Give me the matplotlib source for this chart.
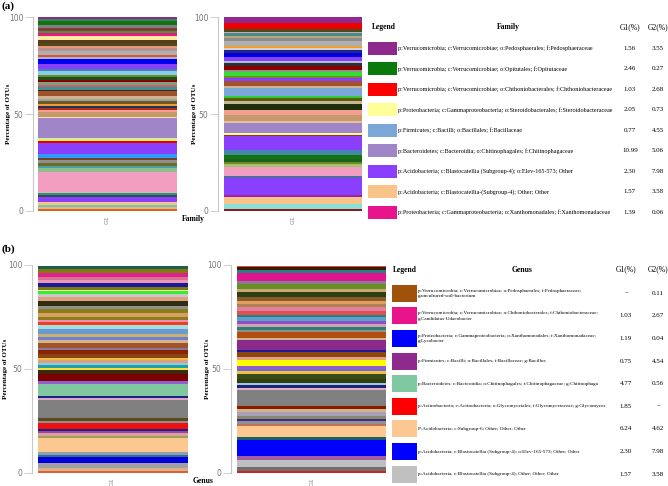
import numpy as np
import matplotlib
matplotlib.use("Agg")
import matplotlib.pyplot as plt

# ---- stacked bar data (bottom -> top), percent of OTUs ----
fam_g1_vals = [0.9, 1.2, 0.9, 1.4, 2.9, 0.9, 1.2, 0.5, 10.3, 1.7, 1.4, 1.2, 1.7, 0.9,
               2.2, 5.9, 0.7, 1.0, 0.7, 10.2, 0.9, 2.2, 1.2, 0.9, 1.2, 0.9, 1.4, 1.4,
               1.2, 2.6, 0.9, 1.2, 1.4, 1.2, 1.4, 1.4, 1.2, 1.7, 1.4, 2.1, 2.6, 1.4,
               0.9, 2.1, 1.4, 1.2, 1.7, 1.4, 2.1, 1.4, 1.2, 1.7, 1.2, 2.2, 1.2, 1.0]
fam_g1_cols = ["#d2691e", "#f0b090", "#66cdaa", "#f9c48a", "#8a3ffc", "#2f4f4f", "#3c8c78",
               "#c0c0c0", "#f29ec0", "#8fbc8f", "#48a0a0", "#6b6b2a", "#909090", "#6b4423",
               "#3399ff", "#8a3ffc", "#e00000", "#ffee44", "#aeeeee", "#9e86c8", "#ffdab0",
               "#c49a6c", "#f4a090", "#b03020", "#1f2f5f", "#f0a030", "#6b5a2a", "#a0a0a0",
               "#d2b48c", "#a0522d", "#3a2a1a", "#3f8f8f", "#c86070", "#7f9f7f", "#8b0000",
               "#1e4d1e", "#6b8e23", "#87ceeb", "#4682b4", "#8a3ffc", "#0000ee", "#a8b8d0",
               "#e05030", "#b0b0b0", "#bc8f8f", "#e9967a", "#4b4b1b", "#5a3a1a", "#ffe8a0",
               "#e8187c", "#3c9a3c", "#8b3a3a", "#808080", "#137313", "#2e8b57", "#902890"]

fam_g2_vals = [0.7, 2.8, 3.4, 1.2, 8.6, 1.2, 4.8, 1.4, 1.2, 1.2, 2.2, 1.2, 1.7, 6.9,
               0.9, 0.9, 5.2, 1.0, 2.9, 2.6, 3.1, 1.6, 1.7, 1.0, 4.3, 0.7, 2.8, 1.2,
               1.2, 2.2, 0.9, 2.1, 1.4, 1.4, 1.7, 2.4, 1.4, 1.2, 1.0, 2.6, 1.2, 1.2,
               1.4, 0.9, 1.2, 3.1, 3.1]
fam_g2_cols = ["#8b1a1a", "#88e0d8", "#f9c48a", "#a020a0", "#8a3ffc", "#4a6fa0", "#f29ec0",
               "#a8c070", "#6b8e23", "#1e5e1e", "#137313", "#3f8f8f", "#4682b4", "#8a3ffc",
               "#a03020", "#ffff99", "#9e86c8", "#e8c0a0", "#c49a6c", "#f4a090", "#1e2e0e",
               "#c8b890", "#5a5a10", "#32cd32", "#7ba7d8", "#d2b48c", "#a0522d", "#8a3ffc",
               "#6b8e23", "#33dd33", "#909090", "#8b0000", "#2f2f2f", "#b0c0d8", "#8a3ffc",
               "#0000dd", "#23238e", "#d0d0d0", "#f0a030", "#b0b0b0", "#8c8c8c", "#b8a878",
               "#3f8f8f", "#e0a0b0", "#4b4b1b", "#ee0000", "#902890"]

gen_g1_vals = [1.0, 1.1, 2.4, 2.9, 1.1, 1.6, 6.4, 1.1, 1.3, 1.1, 1.0, 2.7, 1.3, 1.4,
               8.5, 1.3, 0.8, 5.6, 1.6, 3.2, 2.2, 1.0, 1.1, 1.1, 1.3, 1.3, 1.9, 1.6,
               1.3, 2.2, 1.3, 1.6, 1.6, 2.4, 1.6, 1.6, 1.1, 1.6, 1.6, 2.1, 1.6, 2.4,
               1.6, 1.3, 1.6, 0.8, 1.4, 1.6, 1.6, 1.6, 1.6, 2.1, 1.6]
gen_g1_cols = ["#e06030", "#d8b090", "#a0a0a0", "#0000dd", "#2f6f8f", "#8fa0b0", "#fac890",
               "#a0a050", "#d8a0a0", "#a040a0", "#20207a", "#ee1010", "#909090", "#5a4a1a",
               "#808080", "#d8a8c8", "#202080", "#7fc8a0", "#9060d0", "#7b0000", "#3a2a0a",
               "#f0e040", "#20a0a0", "#87ceeb", "#e0a080", "#f0c040", "#8b4513", "#8b2500",
               "#8a7a9a", "#a0522d", "#d2b48c", "#7080d0", "#c8b070", "#6a9ad0", "#a0e0e0",
               "#ee4020", "#f090b0", "#8b7d1a", "#d8a060", "#8b7d1a", "#909090", "#2f2f0f",
               "#e0a080", "#c8c8c8", "#33ee33", "#fff0a0", "#807a10", "#1a1a9a", "#e898b8",
               "#d87090", "#e0208c", "#807a10", "#1f5f4f"]

gen_g2_vals = [0.6, 2.2, 3.5, 1.6, 8.0, 1.3, 5.1, 1.3, 1.3, 1.1, 1.3, 1.9, 1.6, 1.1,
               7.7, 1.3, 1.1, 1.1, 2.1, 2.4, 1.3, 1.1, 1.6, 2.7, 1.6, 2.1, 1.1, 4.8,
               1.0, 2.7, 1.1, 1.6, 1.3, 1.3, 1.9, 1.3, 1.9, 1.6, 1.6, 1.6, 1.9, 2.1,
               1.6, 2.4, 1.3, 3.9, 1.6, 1.6, 0.5]
gen_g2_cols = ["#d02020", "#707070", "#c0c0c0", "#a060a0", "#0000ff", "#1f5f5f", "#fac890",
               "#c07050", "#909090", "#3a2a8a", "#8a8a6a", "#a8a0b8", "#d2b48c", "#8b1a00",
               "#808080", "#e0b0c0", "#20207a", "#a0c8e0", "#2f3f0f", "#3a4a1a", "#f0c040",
               "#6a6ad0", "#9060d0", "#ffff00", "#e0a080", "#8b4513", "#1a1a9a", "#8b2a8b",
               "#d2b48c", "#b05010", "#909090", "#2f7f6f", "#d0a0c0", "#9050c0", "#5f9fcf",
               "#2a8080", "#e05050", "#e080a0", "#b08050", "#e0a060", "#8b5a2b", "#2f3f0f",
               "#c8a878", "#6b8e23", "#8a7a9a", "#e0148c", "#2a8080", "#3a1a0a", "#e05030"]

# ---- legend tables ----
fam_names = ["p:Verrucomicrobia; c:Verrucomicrobiae; o:Pedosphaerales; f:Pedosphaeraceae",
             "p:Verrucomicrobia; c:Verrucomicrobiae; o:Opitutales; f:Opitutaceae",
             "p:Verrucomicrobia; c:Verrucomicrobiae; o:Chthoniobacterales; f:Chthoniobacteraceae",
             "p:Proteobacteria; c:Gammaproteobacteria; o:Steroidobacterales; f:Steroidobacteraceae",
             "p:Firmicutes; c:Bacilli; o:Bacillales; f:Bacillaceae",
             "p:Bacteroidetes; c:Bacteroidia; o:Chitinophagales; f:Chitinophagaceae",
             "p:Acidobacteria; c:Blastocatellia (Subgroup-4); o:Elev-165-573; Other",
             "p:Acidobacteria; c:Blastocatellia-(Subgroup-4); Other; Other",
             "p:Proteobacteria; c:Gammaproteobacteria; o:Xanthomonadales; f:Xanthomonadaceae"]
fam_g1_pct = ["1.56", "2.46", "1.03", "2.05", "0.77", "10.99", "2.30", "1.57", "1.39"]
fam_g2_pct = ["3.55", "0.27", "2.68", "0.73", "4.55", "5.06", "7.98", "3.58", "0.06"]
fam_leg_cols = ["#8e2a8e", "#0a7a0a", "#ff0000", "#ffff99", "#7ba7d8", "#9e86c8",
                "#8a3ffc", "#f9c48a", "#e8148c"]

gen_names = ["p:Verrucomicrobia; c:Verrucomicrobiae; o:Pedosphaerales; f:Pedosphaeraceae;\ng:uncultured-soil-bacterium",
             "p:Verrucomicrobia; c:Verrucomicrobiae; o:Chthoniobacterales; f:Chthoniobacteraceae;\ng:Candidatus-Udaeobacter",
             "p:Proteobacteria; c:Gammaproteobacteria; o:Xanthomonadales; f:Xanthomonadaceae;\ng:Lysobacter",
             "p:Firmicutes; c:Bacilli; o:Bacillales; f:Bacillaceae; g:Bacillus",
             "p:Bacteroidetes; c:Bacteroidia; o:Chitinophagales; f:Chitinophagaceae; g:Chitinophaga",
             "p:Actinobacteria; c:Actinobacteria; o:Glycomycetales; f:Glycomycetaceae; g:Glycomyces",
             "P:Acidobacteria; c:Subgroup-6; Other; Other; Other",
             "p:Acidobacteria; c:Blastocatellia (Subgroup-4); o:Elev-165-573; Other; Other",
             "p:Acidobacteria; c:Blastocatellia (Subgroup-4); Other; Other; Other"]
gen_g1_pct = ["\u2013", "1.03", "1.19", "0.75", "4.77", "1.85", "6.24", "2.30", "1.57"]
gen_g2_pct = ["0.11", "2.67", "0.04", "4.54", "0.56", "\u2013", "4.62", "7.98", "3.58"]
gen_leg_cols = ["#a0520a", "#e8148c", "#0000ff", "#8e2a8e", "#7fc8a0", "#ff0000",
                "#fac890", "#0000ff", "#c0c0c0"]

W, H = 668, 486
fig = plt.figure(figsize=(W / 100, H / 100), dpi=100)
SERIF = "Liberation Serif"


def px_axes(x0, y0, x1, y1):
    """axes from pixel box (top-left origin)"""
    return fig.add_axes([x0 / W, 1 - y1 / H, (x1 - x0) / W, (y1 - y0) / H])


def stacked(ax, vals, cols, frac, ylab_x):
    bottom = 0
    for v, c in zip(vals, cols):
        ax.bar(0, v, bottom=bottom, width=frac, color=c, linewidth=0)
        bottom += v
    ax.set_xlim(-0.5, 0.5)
    ax.set_ylim(0, 100)
    ax.set_yticks([0, 50, 100])
    ax.set_xticks([0])
    ax.set_xticklabels(["G1"], rotation=90, fontsize=4.5, color="#888888")
    for s in ["top", "right", "bottom"]:
        ax.spines[s].set_visible(False)
    ax.spines["left"].set_color("#c8c8c8")
    ax.spines["left"].set_linewidth(0.8)
    ax.tick_params(axis="y", length=6, width=0.6, color="#c8c8c8",
                   labelsize=5.5, labelcolor="#777777", pad=1)
    ax.tick_params(axis="x", length=0, pad=3)
    ax.set_ylabel("Percentage of OTUs", fontsize=5, fontweight="bold", family=SERIF)
    ax.yaxis.set_label_coords(ylab_x, 0.5)


# panel (a)
ax = px_axes(33, 17.3, 182, 210.7)
stacked(ax, fam_g1_vals, fam_g1_cols, 139 / 149, -0.15)
ax = px_axes(218, 17.3, 368, 210.7)
stacked(ax, fam_g2_vals, fam_g2_cols, 138 / 150, -0.14)
# panel (b)
ax = px_axes(32, 265, 193, 472.7)
stacked(ax, gen_g1_vals, gen_g1_cols, 150 / 161, -0.15)
ax = px_axes(231, 265, 393, 472.7)
stacked(ax, gen_g2_vals, gen_g2_cols, 149 / 162, -0.13)

fig.text(2 / W, 1 - 6 / H, "(a)", fontsize=8, fontweight="bold", family=SERIF, va="center")
fig.text(2 / W, 1 - 249 / H, "(b)", fontsize=8, fontweight="bold", family=SERIF, va="center")
fig.text(193 / W, 1 - 219 / H, "Family", fontsize=5.5, fontweight="bold", family=SERIF,
         ha="center", va="center")
fig.text(203 / W, 1 - 481 / H, "Genus", fontsize=5.5, fontweight="bold", family=SERIF,
         ha="center", va="center")


def table(y_first, step, names, g1, g2, cols, title, sw, txt_x, cols_x, tsize, title_x, legend_x):
    top = y_first - 1.5 * step
    bot = y_first + 8.5 * step
    tax = px_axes(340, top, 668, bot)
    tax.set_xlim(340, 668)
    tax.set_ylim(8.5, -1.5)
    tax.axis("off")
    rows = np.arange(len(names))
    tax.barh(rows, sw[1] - sw[0], left=sw[0], height=sw[2] / step, color=cols, linewidth=0)
    hy = -1.05
    tax.text(legend_x, hy, "Legend", fontsize=5.5, fontweight="bold", family=SERIF, va="center")
    tax.text(title_x, hy, title, fontsize=5.5, fontweight="bold", family=SERIF,
             ha="center", va="center")
    tax.text(cols_x[0], hy, "G1(%)", fontsize=5.5, family=SERIF, ha="center", va="center")
    tax.text(cols_x[1], hy, "G2(%)", fontsize=5.5, family=SERIF, ha="center", va="center")
    for i, (n, a, b) in enumerate(zip(names, g1, g2)):
        tax.text(txt_x, i, n, fontsize=tsize, family=SERIF, va="center", linespacing=1.5)
        tax.text(cols_x[0], i, a, fontsize=5, family=SERIF, ha="center", va="center")
        tax.text(cols_x[1], i, b, fontsize=5, family=SERIF, ha="center", va="center")


table(48.3, 20.5, fam_names, fam_g1_pct, fam_g2_pct, fam_leg_cols, "Family",
      (368, 397, 13), 398, (630, 658), 4.4, 508, 372)
table(293.3, 22.6, gen_names, gen_g1_pct, gen_g2_pct, gen_leg_cols, "Genus",
      (392, 417, 17), 418, (626, 658), 3.7, 522, 393)

fig.savefig("out.png", dpi=100)
